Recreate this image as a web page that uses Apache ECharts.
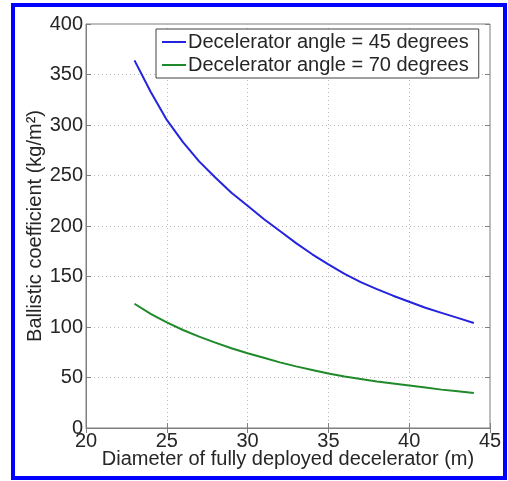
<!DOCTYPE html>
<html>
<head>
<meta charset="utf-8">
<script src="https://cdn.jsdelivr.net/npm/echarts@6/dist/echarts.min.js"></script>
<style>
  html, body { margin: 0; padding: 0; background: #fff; }
  #chart { width: 508px; height: 481px; }
</style>
</head>
<body>
<div id="chart"></div>
<script>
// diameter of the deployed decelerator (m)
var diameters = [23, 24, 25, 26, 27, 28, 29, 30, 31, 32, 33, 34, 35, 36, 37, 38, 39, 40, 41, 42, 43, 44];
// ballistic coefficient (kg/m^2)
var angle45 = [364, 333, 305, 283, 264, 248, 233, 220, 207, 195, 183, 172, 162, 152.5, 144.5, 137.5, 131, 125, 119, 114, 109, 104];
var angle70 = [123, 113, 104.5, 97, 90.5, 84.5, 79, 74, 69.5, 65, 61, 57.5, 54, 51, 48.5, 46, 44, 42, 40, 38, 36.3, 34.6];
var xTicks = [20, 25, 30, 35, 40, 45];
var yTicks = [0, 50, 100, 150, 200, 250, 300, 350, 400];

function pairs(xs, ys) {
    return xs.map(function(x, i) { return [x, ys[i]]; });
}

var font = '"Liberation Sans", Arial, sans-serif';
var axisGrey = '#7f7f7f';
var labelStyle = { color: '#262626', fontSize: 20, fontFamily: font };

var myChart = echarts.init(document.getElementById('chart'));

var option = {
    animation: false,
    backgroundColor: '#fff',
    graphic: [{
        type: 'rect',
        shape: { x: 13, y: 5, width: 492, height: 473 },
        style: { fill: 'none', stroke: '#0000ff', lineWidth: 4 },
        silent: true
    }],
    grid: {
        left: 86,
        right: 18,
        top: 24,
        bottom: 53,
        show: true,
        borderColor: axisGrey,
        borderWidth: 1
    },
    legend: {
        orient: 'vertical',
        left: 156,
        top: 29,
        padding: [3, 10, 3, 6],
        itemGap: 3,
        itemWidth: 24,
        itemHeight: 2,
        icon: 'rect',
        backgroundColor: '#fff',
        borderColor: '#404040',
        borderWidth: 1,
        textStyle: { color: '#262626', fontSize: 20, fontFamily: font, padding: [0, 0, 0, -3] },
        data: ['Decelerator angle = 45 degrees', 'Decelerator angle = 70 degrees']
    },
    xAxis: [{
        type: 'value',
        min: 20,
        max: 45,
        interval: 5,
        name: 'Diameter of fully deployed decelerator (m)',
        nameLocation: 'middle',
        nameGap: 21,
        nameMoveOverlap: false,
        nameTextStyle: labelStyle,
        axisLine: { show: true, lineStyle: { color: axisGrey } },
        axisTick: { show: true, inside: true, length: 5, lineStyle: { color: axisGrey } },
        axisLabel: { color: '#262626', fontSize: 20, fontFamily: font, margin: 3 },
        splitLine: { show: true, lineStyle: { color: '#b8b8b8', type: [1, 3] } }
    }, {
        type: 'value',
        position: 'top',
        min: 20,
        max: 45,
        interval: 5,
        axisLine: { show: false },
        axisTick: { show: true, inside: true, length: 5, lineStyle: { color: axisGrey } },
        axisLabel: { show: false },
        splitLine: { show: false }
    }],
    yAxis: [{
        type: 'value',
        min: 0,
        max: 400,
        interval: 50,
        name: 'Ballistic coefficient (kg/m²)',
        nameLocation: 'middle',
        nameGap: 41,
        nameMoveOverlap: false,
        nameTextStyle: labelStyle,
        axisLine: { show: true, lineStyle: { color: axisGrey } },
        axisTick: { show: true, inside: true, length: 5, lineStyle: { color: axisGrey } },
        axisLabel: { color: '#262626', fontSize: 20, fontFamily: font, margin: 3 },
        splitLine: { show: true, lineStyle: { color: '#b8b8b8', type: [1, 3] } }
    }, {
        type: 'value',
        position: 'right',
        min: 0,
        max: 400,
        interval: 50,
        axisLine: { show: false },
        axisTick: { show: true, inside: true, length: 5, lineStyle: { color: axisGrey } },
        axisLabel: { show: false },
        splitLine: { show: false }
    }],
    series: [{
        name: 'Decelerator angle = 45 degrees',
        type: 'line',
        data: pairs(diameters, angle45),
        smooth: false,
        symbol: 'none',
        color: '#2424dc',
        lineStyle: { width: 2, color: '#2424dc' }
    }, {
        name: 'Decelerator angle = 70 degrees',
        type: 'line',
        data: pairs(diameters, angle70),
        smooth: false,
        symbol: 'none',
        color: '#1f8a2a',
        lineStyle: { width: 2, color: '#1f8a2a' }
    }]
};

myChart.setOption(option);
</script>
</body>
</html>
